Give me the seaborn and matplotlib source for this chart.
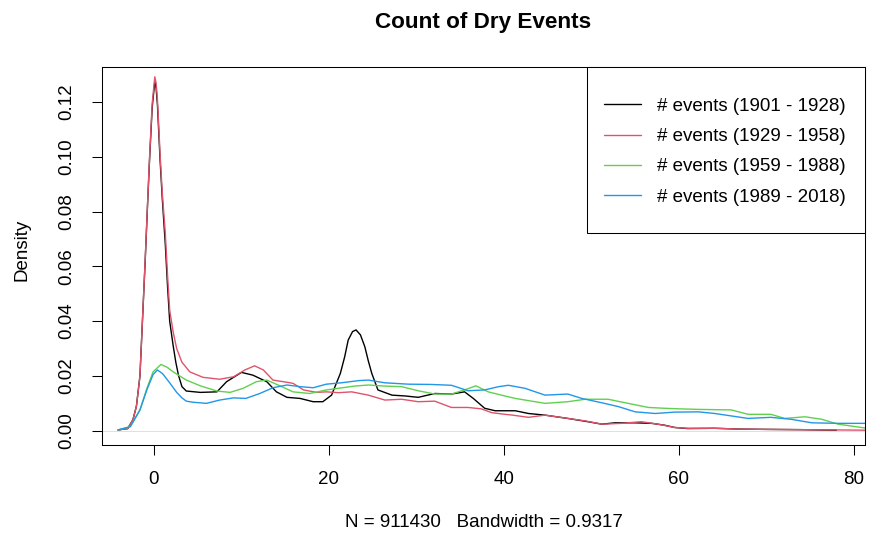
import numpy as np
import pandas as pd
import matplotlib
matplotlib.use("Agg")
import matplotlib.pyplot as plt
from matplotlib.patches import Rectangle
import seaborn as sns

# Kernel density estimates of the number of dry events, one curve per period
periods = [
    "# events (1901 - 1928)",
    "# events (1929 - 1958)",
    "# events (1959 - 1988)",
    "# events (1989 - 2018)",
]
colors = ["#000000", "#DF536B", "#61D04F", "#2297E6"]

x_1901 = [-4.1, -3.0, -2.4, -2.0, -1.6, -1.0, -0.75, -0.5, -0.2, 0.1, 0.25, 0.4, 0.7, 0.95,
          1.3, 1.55, 1.8, 2.2, 2.5, 2.8, 3.2, 3.7, 5.3, 7.2, 8.3, 10.0, 11.3, 12.9, 14.0,
          15.2, 16.7, 18.2, 19.3, 20.3, 21.3, 21.8, 22.2, 22.7, 23.1, 23.6, 24.1, 24.5,
          24.9, 25.6, 27.2, 28.7, 30.2, 32.1, 34.0, 35.5, 36.5, 37.8, 39.0, 41.3, 42.8,
          44.7, 47.3, 49.6, 51.2, 52.7, 55.0, 56.9, 58.4, 59.5, 61.0, 64.1, 67.0, 70.0,
          74.0, 78.0]
d_1901 = [0.0003, 0.0008, 0.0040, 0.0090, 0.0200, 0.0620, 0.0810, 0.0990, 0.1180, 0.1276,
          0.1250, 0.1190, 0.0990, 0.0850, 0.0680, 0.0530, 0.0400, 0.0310, 0.0250, 0.0203,
          0.0161, 0.0145, 0.0140, 0.0142, 0.0179, 0.0213, 0.0203, 0.0179, 0.0142, 0.0122,
          0.0118, 0.0106, 0.0106, 0.0130, 0.0209, 0.0270, 0.0331, 0.0362, 0.0368, 0.0350,
          0.0307, 0.0255, 0.0209, 0.0149, 0.0130, 0.0127, 0.0122, 0.0136, 0.0134, 0.0142,
          0.0118, 0.0082, 0.0073, 0.0073, 0.0063, 0.0057, 0.0045, 0.0033, 0.0024, 0.0029,
          0.0029, 0.0027, 0.0020, 0.0012, 0.0008, 0.0009, 0.0006, 0.0005, 0.0004, 0.0002]

x_1929 = [-4.1, -3.0, -2.4, -2.0, -1.6, -1.0, -0.75, -0.5, -0.2, 0.1, 0.25, 0.4, 0.7, 0.95,
          1.3, 1.55, 1.8, 2.2, 2.6, 3.2, 4.1, 5.6, 7.5, 9.1, 10.4, 11.5, 12.5, 13.6, 15.2,
          15.9, 17.1, 18.6, 19.7, 21.1, 22.6, 24.5, 26.4, 28.3, 30.2, 32.1, 34.0, 35.9,
          37.4, 38.6, 40.1, 41.0, 42.8, 44.7, 47.3, 49.3, 51.2, 53.4, 55.7, 57.6, 59.5,
          61.0, 64.1, 67.0, 70.0, 74.0, 78.0, 81.5]
d_1929 = [0.0003, 0.0008, 0.0040, 0.0090, 0.0200, 0.0625, 0.0815, 0.1000, 0.1195, 0.1292,
          0.1268, 0.1210, 0.1010, 0.0870, 0.0720, 0.0570, 0.0440, 0.0360, 0.0300, 0.0250,
          0.0215, 0.0195, 0.0188, 0.0197, 0.0222, 0.0237, 0.0222, 0.0185, 0.0177, 0.0173,
          0.0149, 0.0140, 0.0142, 0.0139, 0.0142, 0.0130, 0.0112, 0.0115, 0.0106, 0.0108,
          0.0085, 0.0085, 0.0080, 0.0066, 0.0060, 0.0057, 0.0049, 0.0057, 0.0045, 0.0036,
          0.0024, 0.0027, 0.0033, 0.0024, 0.0012, 0.0009, 0.0009, 0.0006, 0.0005, 0.0004,
          0.0003, 0.0002]

x_1959 = [-4.1, -2.7, -1.6, -0.8, -0.1, 0.8, 1.5, 2.2, 3.7, 5.3, 7.2, 8.7, 10.2, 11.7,
          12.9, 14.4, 15.9, 17.8, 19.7, 21.1, 22.9, 24.5, 26.4, 28.3, 30.2, 32.1, 34.0,
          35.5, 36.8, 38.2, 40.1, 41.3, 42.8, 44.7, 47.3, 49.3, 51.9, 54.2, 56.5, 58.4,
          60.0, 62.2, 66.0, 67.9, 70.5, 72.1, 74.4, 76.3, 78.2, 81.5]
d_1959 = [0.0003, 0.0015, 0.0076, 0.0155, 0.0215, 0.0242, 0.0232, 0.0215, 0.0185, 0.0164,
          0.0145, 0.0140, 0.0155, 0.0179, 0.0185, 0.0164, 0.0142, 0.0136, 0.0149, 0.0155,
          0.0163, 0.0167, 0.0163, 0.0161, 0.0146, 0.0134, 0.0134, 0.0149, 0.0164, 0.0142,
          0.0127, 0.0118, 0.0110, 0.0100, 0.0106, 0.0115, 0.0115, 0.0100, 0.0085, 0.0082,
          0.0080, 0.0078, 0.0076, 0.0060, 0.0060, 0.0045, 0.0051, 0.0042, 0.0024, 0.0009]

x_1989 = [-4.1, -2.7, -1.6, -0.8, -0.1, 0.4, 1.0, 1.8, 2.6, 3.2, 3.7, 4.5, 6.0, 7.5, 9.1,
          10.5, 12.1, 13.6, 15.2, 16.7, 18.2, 19.7, 21.4, 23.4, 24.5, 26.4, 29.1, 31.7,
          34.0, 35.9, 37.8, 39.4, 40.5, 42.4, 44.7, 47.3, 48.9, 51.2, 53.1, 55.0, 57.3,
          59.5, 62.2, 64.1, 67.9, 70.5, 72.8, 75.2, 78.2, 81.5]
d_1989 = [0.0003, 0.0015, 0.0076, 0.0150, 0.0205, 0.0222, 0.0208, 0.0175, 0.0140, 0.0120,
          0.0108, 0.0104, 0.0100, 0.0112, 0.0120, 0.0118, 0.0136, 0.0157, 0.0167, 0.0161,
          0.0157, 0.0170, 0.0175, 0.0183, 0.0185, 0.0175, 0.0170, 0.0169, 0.0166, 0.0146,
          0.0149, 0.0161, 0.0166, 0.0155, 0.0130, 0.0134, 0.0118, 0.0102, 0.0088, 0.0069,
          0.0063, 0.0068, 0.0069, 0.0063, 0.0045, 0.0049, 0.0042, 0.0029, 0.0027, 0.0027]

x_ticks = [0, 20, 40, 60, 80]
y_ticks = [0.00, 0.02, 0.04, 0.06, 0.08, 0.10, 0.12]

series = [(x_1901, d_1901), (x_1929, d_1929), (x_1959, d_1959), (x_1989, d_1989)]
df = pd.concat(
    [pd.DataFrame({"x": xs, "density": ds, "period": p}) for p, (xs, ds) in zip(periods, series)],
    ignore_index=True,
)

sns.set_style("white")
plt.rcParams["font.family"] = ["Liberation Sans", "DejaVu Sans"]
for key in ["text.color", "axes.labelcolor", "xtick.color", "ytick.color", "axes.edgecolor"]:
    plt.rcParams[key] = "black"
base = 13.5

fig = plt.figure(figsize=(8.7, 5.39), dpi=100)
ax = fig.add_axes([0.1172, 0.1744, 0.8770, 0.7004])

ax.axhline(0, color="#c8c8c8", lw=0.4, zorder=0)
sns.lineplot(
    data=df, x="x", y="density", hue="period", hue_order=periods, palette=colors,
    estimator=None, sort=False, lw=1.0, ax=ax, legend=True,
)

ax.set_xlim(-5.94, 81.26)
ax.set_ylim(-0.0052, 0.1326)
ax.set_xticks(x_ticks)
ax.set_xticklabels([str(t) for t in x_ticks])
ax.set_yticks(y_ticks)
ax.set_yticklabels([f"{t:.2f}" for t in y_ticks], rotation=90, va="center")
ax.tick_params(axis="both", which="major", direction="out", length=7.5, width=0.75,
               color="black", labelcolor="black", labelsize=base, pad=11.5,
               bottom=True, left=True)

for s in ax.spines.values():
    s.set_color("black")
    s.set_linewidth(0.75)

ax.set_title("Count of Dry Events", fontsize=16.2, fontweight="bold", pad=28.5, color="black")
ax.set_xlabel("N = 911430   Bandwidth = 0.9317", fontsize=base, color="black")
ax.xaxis.set_label_coords(0.5, -0.184)
ax.set_ylabel("Density", fontsize=base, color="black")
ax.yaxis.set_label_coords(-0.0937, 0.516)

# Legend box in the upper right corner
handles, labels = ax.get_legend_handles_labels()
ax.get_legend().remove()
ax.add_patch(Rectangle((0.6353, 0.5608), 1 - 0.6353, 1 - 0.5608, transform=ax.transAxes,
                       facecolor="white", edgecolor="black", lw=0.75, zorder=4, clip_on=False))
leg = ax.legend(handles, labels, loc="center", bbox_to_anchor=(0.8165, 0.777),
                bbox_transform=ax.transAxes, frameon=False, borderpad=0,
                handlelength=2.0, handletextpad=0.85, labelspacing=0.7, fontsize=base,
                labelcolor="black")
leg.set_zorder(5)

fig.savefig("out.png", dpi=100)
